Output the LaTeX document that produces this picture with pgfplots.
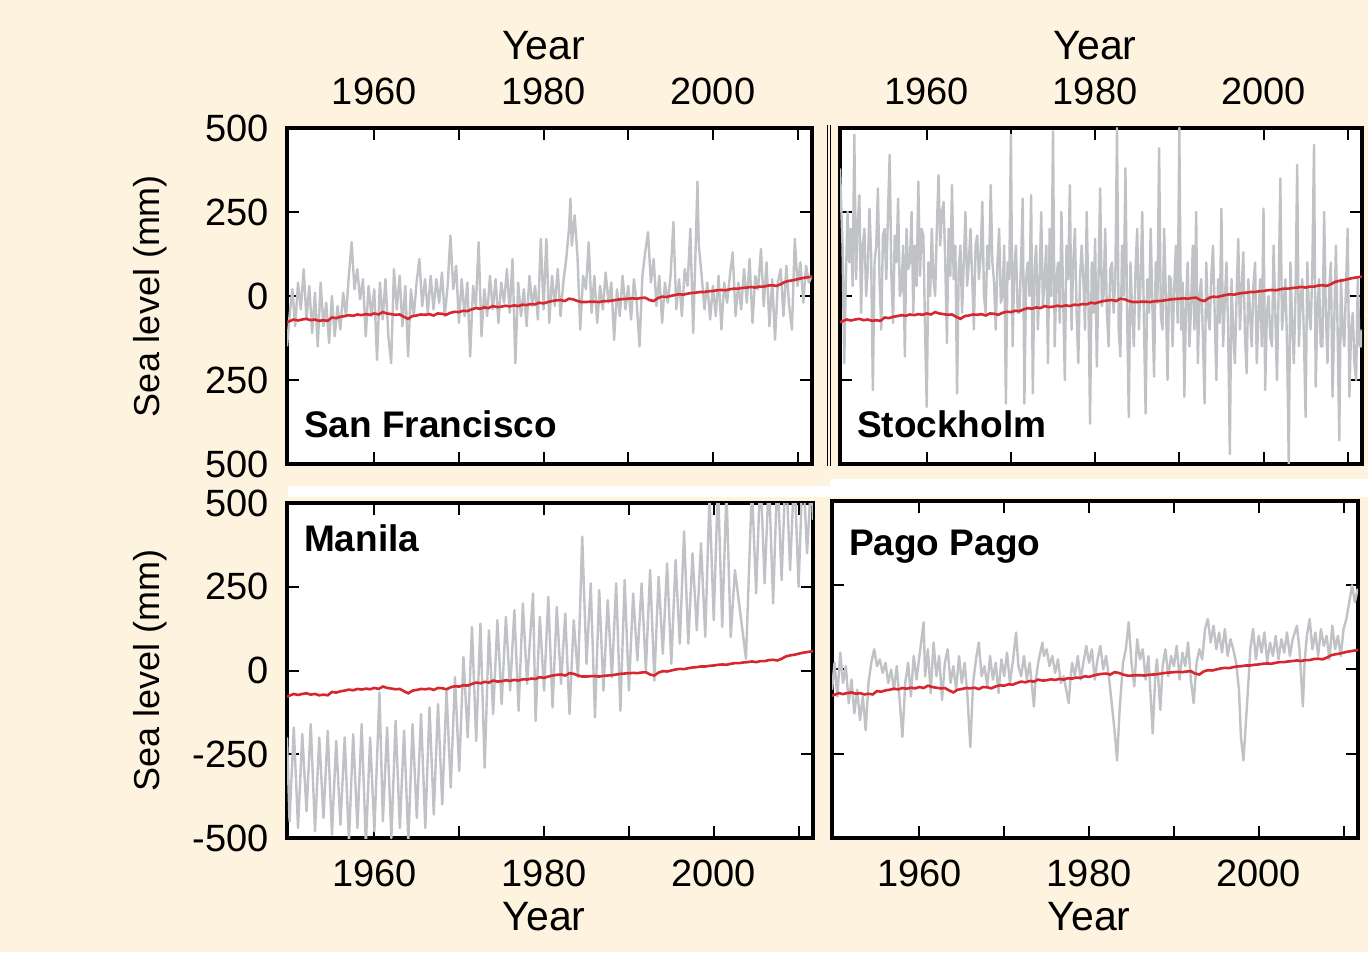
\documentclass[border=0pt]{standalone}
\usepackage{fontspec}
\setmainfont{Liberation Sans}
\usepackage{pgfplots}
\usepackage{pgfplotstable}
\pgfplotsset{compat=1.18}
\definecolor{bg}{RGB}{253,243,222}
\definecolor{gline}{RGB}{192,194,198}
\definecolor{rline}{RGB}{214,39,46}

\pgfplotstableread{
x y
1949.7 -78
1950.0 -75
1950.5 -70
1951.0 -73
1951.5 -70
1952.0 -68
1952.5 -72
1953.0 -70
1953.5 -74
1954.0 -72
1954.5 -74
1955.0 -64
1955.5 -66
1956.0 -62
1956.5 -60
1957.0 -57
1957.5 -59
1958.0 -55
1958.5 -57
1959.0 -54
1959.5 -56
1960.0 -52
1960.5 -55
1961.0 -48
1961.5 -52
1962.0 -54
1962.5 -56
1963.0 -55
1963.5 -62
1964.0 -68
1964.5 -60
1965.0 -58
1965.5 -55
1966.0 -56
1966.5 -54
1967.0 -58
1967.5 -52
1968.0 -53
1968.5 -56
1969.0 -50
1969.5 -47
1970.0 -48
1970.5 -44
1971.0 -45
1971.5 -40
1972.0 -36
1972.5 -38
1973.0 -34
1973.5 -36
1974.0 -30
1974.5 -33
1975.0 -32
1975.5 -29
1976.0 -31
1976.5 -28
1977.0 -30
1977.5 -26
1978.0 -27
1978.5 -24
1979.0 -25
1979.5 -20
1980.0 -22
1980.5 -18
1981.0 -15
1981.5 -13
1982.0 -12
1982.5 -15
1983.0 -8
1983.5 -10
1984.0 -15
1984.5 -18
1985.0 -18
1985.5 -17
1986.0 -17
1986.5 -18
1987.0 -16
1987.5 -15
1988.0 -14
1988.5 -12
1989.0 -10
1989.5 -9
1990.0 -8
1990.5 -7
1991.0 -8
1991.5 -6
1992.0 -5
1992.5 -12
1993.0 -15
1993.5 -6
1994.0 -2
1994.5 -3
1995.0 0
1995.5 3
1996.0 5
1996.5 4
1997.0 7
1997.5 9
1998.0 10
1998.5 12
1999.0 12
1999.5 14
2000.0 15
2000.5 17
2001.0 18
2001.5 17
2002.0 20
2002.5 22
2003.0 22
2003.5 24
2004.0 25
2004.5 27
2005.0 25
2005.5 28
2006.0 28
2006.5 31
2007.0 32
2007.5 30
2008.0 35
2008.5 42
2009.0 45
2009.5 47
2010.0 50
2010.5 53
2011.0 55
2011.5 57
2011.7 58
}\redtab

\pgfplotsset{
  panel/.style={
    scale only axis, anchor=south west,
    xmin=1949.7, xmax=2011.7, ymin=-500, ymax=500,
    xtick={1960,1970,1980,1990,2000,2010},
    xticklabels={1960,,1980,,2000,},
    ytick={-500,-250,0,250,500},
    axis line style={line width=2pt},
    major tick length=6pt,
    every tick/.style={black, line width=1pt},
    tick label style={font=\fontsize{19}{22}\selectfont},
    axis background/.style={fill=white},
    xlabel={Year},
    xlabel style={font=\fontsize{20.5}{24}\selectfont},
    ylabel style={font=\fontsize{18}{22}\selectfont},
    yticklabel style={xshift=-5.5pt},
  },
  lowerx/.style={
    xticklabel style={yshift=-7.5pt},
    xlabel style={at={(axis description cs:0.4887,0)}, anchor=base, yshift=-46pt},
  },
  upperx/.style={
    xticklabel pos=upper,
    xticklabel style={yshift=8pt},
    xlabel style={at={(axis description cs:0.4887,1)}, anchor=base, yshift=34pt},
  },
  sealabel/.style={
    ylabel={Sea level (mm)},
    ylabel style={at={(axis description cs:-0.261,0.5)}, anchor=center},
  },
  grayser/.style={color=gline, line width=1.2pt, mark=none, line join=round},
  redser/.style={color=rline, line width=1.3pt, mark=none},
}
\newcommand\stn{\fontsize{18.5}{22}\selectfont\bfseries}

\begin{document}
\begin{tikzpicture}
\useasboundingbox (0pt,0pt) rectangle (684pt,476pt);
\fill[bg] (0pt,0pt) rectangle (684pt,476pt);
\fill[white] (144pt,227.5pt) rectangle (415pt,233pt);
\fill[white] (415pt,227.5pt) rectangle (684pt,236.5pt);
\draw[black, line width=0.5pt] (413.75pt,243pt) -- (413.75pt,413.5pt);
\draw[black, line width=0.5pt] (415.25pt,243pt) -- (415.25pt,413.5pt);

% San Francisco
\begin{axis}[panel, upperx, sealabel, at={(143.5pt,244pt)}, width=262.5pt, height=168pt,
  yticklabels={500,250,0,250,500}]
\addplot[grayser] coordinates {
(1949.7,-150)(1950.0,-60)(1950.33,20)(1950.67,-90)(1951.0,40)(1951.33,-40)(1951.67,80)
(1952.0,-70)(1952.33,30)(1952.67,-110)(1953.0,10)(1953.33,-150)(1953.67,40)
(1954.0,-90)(1954.33,-20)(1954.67,-140)(1955.0,0)(1955.33,-120)(1955.67,-30)
(1956.0,-100)(1956.33,10)(1956.67,-60)(1957.0,60)(1957.33,160)(1957.67,20)
(1958.0,80)(1958.33,-10)(1958.67,50)(1959.0,-120)(1959.33,30)(1959.67,-60)
(1960.0,20)(1960.33,-190)(1960.67,40)(1961.0,-70)(1961.33,50)(1961.67,-120)
(1962.0,-200)(1962.33,80)(1962.67,-40)(1963.0,60)(1963.33,-90)(1963.67,30)
(1964.0,-180)(1964.33,20)(1964.67,-60)(1965.0,40)(1965.33,110)(1965.67,-30)
(1966.0,50)(1966.33,-50)(1966.67,60)(1967.0,-40)(1967.33,50)(1967.67,-20)
(1968.0,70)(1968.33,-60)(1968.67,30)(1969.0,180)(1969.33,20)(1969.67,90)
(1970.0,-80)(1970.33,50)(1970.67,-60)(1971.0,40)(1971.33,-180)(1971.67,30)
(1972.0,-30)(1972.33,160)(1972.67,-120)(1973.0,20)(1973.33,-60)(1973.67,60)
(1974.0,-40)(1974.33,50)(1974.67,-80)(1975.0,40)(1975.33,-20)(1975.67,80)
(1976.0,-50)(1976.33,110)(1976.67,-200)(1977.0,40)(1977.33,-60)(1977.67,20)
(1978.0,-90)(1978.33,60)(1978.67,-30)(1979.0,30)(1979.33,-70)(1979.67,170)
(1980.0,-40)(1980.33,170)(1980.67,-80)(1981.0,60)(1981.33,-30)(1981.67,80)
(1982.0,-60)(1982.33,40)(1982.67,110)(1983.0,200)(1983.17,290)(1983.33,150)(1983.67,240)
(1984.0,120)(1984.33,-100)(1984.67,60)(1985.0,20)(1985.33,160)(1985.67,-50)
(1986.0,60)(1986.33,-80)(1986.67,30)(1987.0,-40)(1987.33,70)(1987.67,-20)
(1988.0,40)(1988.33,-130)(1988.67,20)(1989.0,-60)(1989.33,60)(1989.67,-40)
(1990.0,30)(1990.33,-70)(1990.67,50)(1991.0,-20)(1991.33,-150)(1991.67,60)
(1992.0,130)(1992.33,190)(1992.67,40)(1993.0,110)(1993.33,-30)(1993.67,60)
(1994.0,-80)(1994.33,40)(1994.67,-20)(1995.0,60)(1995.33,220)(1995.67,-40)
(1996.0,50)(1996.33,-60)(1996.67,80)(1997.0,30)(1997.33,200)(1997.67,-110)
(1998.0,180)(1998.17,340)(1998.33,150)(1998.67,60)(1999.0,-40)(1999.33,40)(1999.67,-70)
(2000.0,30)(2000.33,-60)(2000.67,60)(2001.0,-100)(2001.33,40)(2001.67,-20)
(2002.0,60)(2002.33,130)(2002.67,-60)(2003.0,40)(2003.33,-40)(2003.67,80)
(2004.0,-20)(2004.33,110)(2004.67,-80)(2005.0,60)(2005.33,20)(2005.67,140)
(2006.0,-30)(2006.33,100)(2006.67,-90)(2007.0,50)(2007.33,-130)(2007.67,40)
(2008.0,80)(2008.33,-60)(2008.67,90)(2009.0,-30)(2009.33,-100)(2009.67,170)
(2010.0,30)(2010.33,100)(2010.67,-20)(2011.0,90)(2011.33,40)(2011.67,60)
};
\addplot[redser] table {\redtab};
\node[anchor=base west, font=\stn] at (rel axis cs:0,0) [xshift=5pt, yshift=13pt] {San Francisco};
\end{axis}

% Stockholm
\begin{axis}[panel, upperx, at={(420pt,244pt)}, width=261pt, height=168pt, yticklabels={}]
\addplot[grayser] coordinates {
(1949.7,380)
(1950.0,150)(1950.2,-200)(1950.4,60)(1950.6,250)(1950.8,100)
(1951.0,200)(1951.2,30)(1951.4,480)(1951.6,50)(1951.8,220)
(1952.0,300)(1952.2,-50)(1952.4,150)(1952.6,200)(1952.8,0)
(1953.0,80)(1953.2,260)(1953.4,120)(1953.6,-280)(1953.8,100)
(1954.0,150)(1954.2,320)(1954.4,40)(1954.6,-100)(1954.8,180)
(1955.0,200)(1955.2,50)(1955.4,250)(1955.6,420)(1955.8,60)
(1956.0,-80)(1956.2,180)(1956.4,100)(1956.6,290)(1956.8,0)
(1957.0,20)(1957.2,150)(1957.4,-180)(1957.6,200)(1957.8,80)
(1958.0,100)(1958.2,250)(1958.4,-50)(1958.6,150)(1958.8,30)
(1959.0,340)(1959.2,60)(1959.4,200)(1959.6,180)(1959.8,-100)
(1960.0,-330)(1960.2,100)(1960.4,0)(1960.6,200)(1960.8,50)
(1961.0,0)(1961.2,200)(1961.4,360)(1961.6,150)(1961.8,250)
(1962.0,280)(1962.2,100)(1962.4,-140)(1962.6,200)(1962.8,60)
(1963.0,330)(1963.2,50)(1963.4,150)(1963.6,-290)(1963.8,80)
(1964.0,150)(1964.2,-50)(1964.4,100)(1964.6,250)(1964.8,30)
(1965.0,100)(1965.2,200)(1965.4,50)(1965.6,-100)(1965.8,150)
(1966.0,180)(1966.2,50)(1966.4,120)(1966.6,280)(1966.8,0)
(1967.0,-50)(1967.2,150)(1967.4,80)(1967.6,330)(1967.8,100)
(1968.0,40)(1968.2,-100)(1968.4,100)(1968.6,200)(1968.8,-20)
(1969.0,0)(1969.2,150)(1969.4,-320)(1969.6,100)(1969.8,50)
(1970.0,480)(1970.2,-150)(1970.4,80)(1970.6,150)(1970.8,-50)
(1971.0,-50)(1971.2,100)(1971.4,290)(1971.6,-320)(1971.8,50)
(1972.0,100)(1972.2,0)(1972.4,300)(1972.6,-290)(1972.8,80)
(1973.0,150)(1973.2,-100)(1973.4,50)(1973.6,250)(1973.8,-30)
(1974.0,50)(1974.2,150)(1974.4,-200)(1974.6,200)(1974.8,0)
(1975.0,490)(1975.2,-150)(1975.4,50)(1975.6,100)(1975.8,-80)
(1976.0,250)(1976.2,0)(1976.4,-250)(1976.6,150)(1976.8,50)
(1977.0,330)(1977.2,-100)(1977.4,100)(1977.6,200)(1977.8,-50)
(1978.0,-200)(1978.2,50)(1978.4,150)(1978.6,50)(1978.8,-100)
(1979.0,250)(1979.2,0)(1979.4,-380)(1979.6,100)(1979.8,-50)
(1980.0,170)(1980.2,-210)(1980.4,50)(1980.6,320)(1980.8,-30)
(1981.0,0)(1981.2,200)(1981.4,-50)(1981.6,-150)(1981.8,80)
(1982.0,100)(1982.2,-50)(1982.4,50)(1982.6,500)(1982.8,-100)
(1983.0,-180)(1983.2,150)(1983.4,0)(1983.6,380)(1983.8,-50)
(1984.0,-360)(1984.2,100)(1984.4,-50)(1984.6,-150)(1984.8,80)
(1985.0,200)(1985.2,-100)(1985.4,50)(1985.6,250)(1985.8,-80)
(1986.0,-350)(1986.2,50)(1986.4,-50)(1986.6,200)(1986.8,-30)
(1987.0,-240)(1987.2,100)(1987.4,-20)(1987.6,440)(1987.8,-60)
(1988.0,-100)(1988.2,200)(1988.4,0)(1988.6,-250)(1988.8,60)
(1989.0,50)(1989.2,-150)(1989.4,30)(1989.6,150)(1989.8,-80)
(1990.0,500)(1990.2,-100)(1990.4,40)(1990.6,-300)(1990.8,-20)
(1991.0,100)(1991.2,-150)(1991.4,-30)(1991.6,150)(1991.8,-100)
(1992.0,250)(1992.2,-200)(1992.4,0)(1992.6,50)(1992.8,-120)
(1993.0,-320)(1993.2,100)(1993.4,-50)(1993.6,-100)(1993.8,60)
(1994.0,150)(1994.2,-50)(1994.4,-250)(1994.6,50)(1994.8,-80)
(1995.0,260)(1995.2,-150)(1995.4,-20)(1995.6,100)(1995.8,-100)
(1996.0,-470)(1996.2,50)(1996.4,-100)(1996.6,-200)(1996.8,0)
(1997.0,170)(1997.2,-100)(1997.4,20)(1997.6,130)(1997.8,-120)
(1998.0,-230)(1998.2,50)(1998.4,-50)(1998.6,-150)(1998.8,30)
(1999.0,100)(1999.2,-200)(1999.4,-60)(1999.6,50)(1999.8,-150)
(2000.0,260)(2000.2,-280)(2000.4,-50)(2000.6,0)(2000.8,-120)
(2001.0,-150)(2001.2,150)(2001.4,-50)(2001.6,-250)(2001.8,20)
(2002.0,350)(2002.2,-100)(2002.4,-30)(2002.6,50)(2002.8,-150)
(2003.0,-500)(2003.2,100)(2003.4,-80)(2003.6,-200)(2003.8,0)
(2004.0,390)(2004.2,-150)(2004.4,-20)(2004.6,50)(2004.8,-120)
(2005.0,-360)(2005.2,100)(2005.4,-50)(2005.6,-100)(2005.8,80)
(2006.0,450)(2006.2,-270)(2006.4,-50)(2006.6,50)(2006.8,-150)
(2007.0,-150)(2007.2,250)(2007.4,-50)(2007.6,-200)(2007.8,20)
(2008.0,100)(2008.2,-300)(2008.4,-80)(2008.6,150)(2008.8,-100)
(2009.0,-430)(2009.2,50)(2009.4,-100)(2009.6,-150)(2009.8,30)
(2010.0,200)(2010.2,-300)(2010.4,-100)(2010.6,-50)(2010.8,-200)
(2011.0,-250)(2011.2,50)(2011.4,-150)(2011.6,-150)(2011.7,-100)
};
\addplot[redser] table {\redtab};
\node[anchor=base west, font=\stn] at (rel axis cs:0,0) [xshift=5pt, yshift=13pt] {Stockholm};
\end{axis}

% Manila
\begin{axis}[panel, lowerx, sealabel, at={(143.5pt,57pt)}, width=263pt, height=167.5pt,
  yticklabels={-500,-250,0,250,500}]
\addplot[grayser] coordinates {
(1949.7,-200)(1950.0,-450)(1950.5,-170)(1951.0,-470)(1951.5,-190)(1952.0,-420)(1952.5,-160)
(1953.0,-480)(1953.5,-200)(1954.0,-440)(1954.5,-180)(1955.0,-490)(1955.5,-210)
(1956.0,-460)(1956.5,-200)(1957.0,-510)(1957.5,-190)(1958.0,-470)(1958.5,-160)
(1959.0,-520)(1959.5,-200)(1960.0,-480)(1960.6,-65)(1961.0,-450)(1961.5,-170)
(1962.0,-500)(1962.5,-150)(1963.0,-470)(1963.5,-180)(1964.0,-510)(1964.5,-160)
(1965.0,-440)(1965.5,-130)(1966.0,-470)(1966.5,-110)(1967.0,-430)(1967.5,-100)
(1968.0,-400)(1968.5,-60)(1969.0,-350)(1969.5,-20)(1970.0,-300)(1970.5,40)
(1971.0,-200)(1971.5,130)(1972.0,-210)(1972.5,140)(1973.0,-290)(1973.5,120)
(1974.0,-130)(1974.5,150)(1975.0,-100)(1975.5,160)(1976.0,-60)(1976.5,180)
(1977.0,-120)(1977.5,200)(1978.0,-40)(1978.7,230)(1979.0,-150)(1979.5,160)
(1980.0,-60)(1980.5,220)(1981.0,-110)(1981.5,190)(1982.0,-40)(1982.5,170)
(1983.0,-130)(1983.5,150)(1984.0,-20)(1984.5,400)(1985.0,20)(1985.5,260)
(1986.0,-140)(1986.5,240)(1987.0,-60)(1987.5,210)(1988.0,-20)(1988.5,260)
(1989.0,-120)(1989.5,270)(1990.0,-60)(1990.5,230)(1991.0,30)(1991.5,260)
(1992.0,0)(1992.5,300)(1993.0,-30)(1993.5,280)(1994.0,50)(1994.5,320)
(1995.0,20)(1995.5,330)(1996.0,80)(1996.5,415)(1997.0,80)(1997.5,350)
(1998.0,120)(1998.5,380)(1999.0,100)(1999.5,520)(2000.0,150)(2000.5,560)
(2001.0,130)(2001.5,540)(2002.0,100)(2002.5,300)(2003.8,35)(2004.5,550)
(2005.0,230)(2005.5,600)(2006.0,260)(2006.5,580)(2007.0,200)(2007.5,600)
(2008.0,270)(2008.5,620)(2009.0,300)(2009.5,600)(2010.0,250)(2010.5,620)
(2011.0,350)(2011.5,580)(2011.7,450)
};
\addplot[redser] table {\redtab};
\node[anchor=base west, font=\stn] at (rel axis cs:0,1) [xshift=5pt, yshift=-24pt] {Manila};
\end{axis}

% Pago Pago
\begin{axis}[panel, lowerx, at={(416pt,57pt)}, width=263pt, height=168.5pt, yticklabels={}]
\addplot[grayser] coordinates {
(1949.7,-60)(1950.0,20)(1950.33,-80)(1950.67,50)(1951.0,-40)(1951.33,10)(1951.67,-100)
(1952.0,-30)(1952.33,-130)(1952.67,-60)(1953.0,-150)(1953.33,-80)(1953.67,-180)
(1954.0,-40)(1954.33,20)(1954.67,60)(1955.0,10)(1955.33,30)(1955.67,-10)
(1956.0,20)(1956.33,-40)(1956.67,0)(1957.0,-60)(1957.33,10)(1957.67,-90)
(1958.0,-200)(1958.33,-40)(1958.67,20)(1959.0,-80)(1959.33,40)(1959.67,-30)
(1960.0,40)(1960.5,140)(1960.67,-20)(1961.0,60)(1961.33,-70)(1961.67,80)
(1962.0,-20)(1962.33,40)(1962.67,-90)(1963.0,20)(1963.33,60)(1963.67,-40)
(1964.0,10)(1964.33,-60)(1964.67,40)(1965.0,-40)(1965.33,20)(1965.67,-80)
(1966.0,-230)(1966.33,-40)(1966.67,30)(1967.0,80)(1967.33,-20)(1967.67,10)
(1968.0,-50)(1968.33,40)(1968.67,-30)(1969.0,20)(1969.33,-70)(1969.67,30)
(1970.0,-20)(1970.33,50)(1970.67,-40)(1971.0,20)(1971.4,110)(1971.67,10)
(1972.0,-20)(1972.33,40)(1972.67,-30)(1973.0,20)(1973.5,-110)(1973.67,-40)
(1974.0,20)(1974.5,80)(1974.67,40)(1975.0,60)(1975.33,10)(1975.67,40)
(1976.0,-10)(1976.33,30)(1976.67,-40)(1977.0,-20)(1977.6,-100)(1977.8,-30)
(1978.0,20)(1978.33,-20)(1978.67,40)(1979.0,-30)(1979.33,20)(1979.67,70)
(1980.0,20)(1980.33,60)(1980.67,-30)(1981.0,30)(1981.33,70)(1981.67,0)
(1982.0,40)(1982.33,-20)(1982.67,-100)(1983.0,-180)(1983.3,-270)(1983.6,-120)
(1984.0,20)(1984.33,60)(1984.67,140)(1985.0,20)(1985.33,-50)(1985.67,90)
(1986.0,30)(1986.33,60)(1986.67,-30)(1987.0,40)(1987.5,-190)(1987.8,-20)
(1988.0,30)(1988.4,-120)(1988.67,10)(1989.0,60)(1989.33,-20)(1989.67,40)
(1990.0,10)(1990.33,70)(1990.67,-30)(1991.0,50)(1991.33,10)(1991.67,80)
(1992.0,-30)(1992.33,-100)(1992.67,20)(1993.0,60)(1993.33,30)(1993.67,120)
(1994.0,150)(1994.33,80)(1994.67,130)(1995.0,60)(1995.33,110)(1995.67,50)
(1996.0,120)(1996.33,40)(1996.67,90)(1997.0,60)(1997.33,20)(1997.67,-60)
(1997.9,-200)(1998.2,-270)(1998.5,-150)(1998.8,-30)(1999.0,60)(1999.33,120)(1999.67,30)
(2000.0,100)(2000.33,50)(2000.67,110)(2001.0,20)(2001.33,80)(2001.67,40)
(2002.0,100)(2002.33,30)(2002.67,90)(2003.0,50)(2003.33,110)(2003.67,40)
(2004.0,90)(2004.5,130)(2004.8,60)(2005.2,-110)(2005.4,20)(2005.67,100)
(2006.0,150)(2006.33,60)(2006.67,110)(2007.0,40)(2007.33,120)(2007.67,70)
(2008.0,100)(2008.33,30)(2008.67,130)(2009.0,60)(2009.33,100)(2009.67,40)
(2010.0,120)(2010.33,150)(2010.67,200)(2011.0,250)(2011.33,200)(2011.67,240)
};
\addplot[redser] table {\redtab};
\node[anchor=base west, font=\stn] at (rel axis cs:0,1) [xshift=5pt, yshift=-27.5pt] {Pago Pago};
\end{axis}
\end{tikzpicture}
\end{document}
